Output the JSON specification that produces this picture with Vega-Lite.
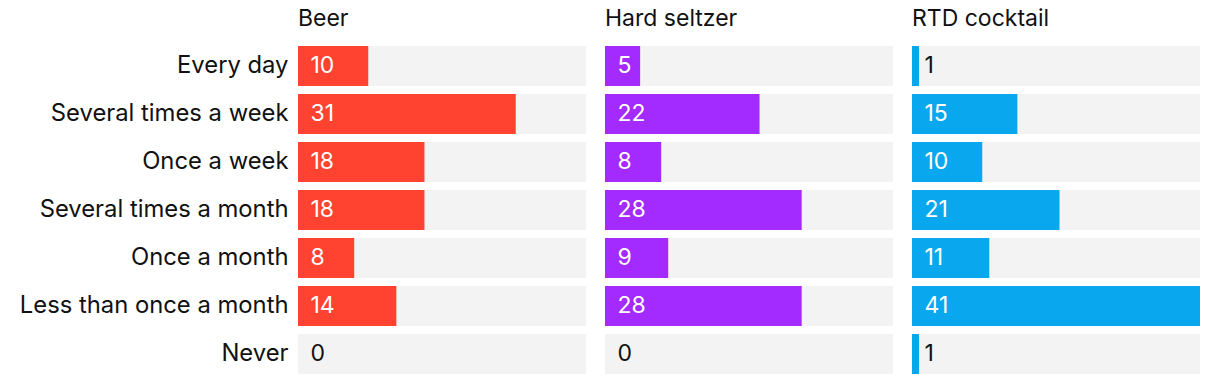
{
  "$schema": "https://vega.github.io/schema/vega-lite/v6.json",
  "padding": {"left": 19, "top": 8, "right": 0, "bottom": 0},
  "config": {
    "font": "Inter",
    "view": {"stroke": null},
    "facet": {"spacing": 19}
  },
  "data": {
    "values": [
      {"drink": "Beer", "freq": "Every day", "value": 10},
      {"drink": "Beer", "freq": "Several times a week", "value": 31},
      {"drink": "Beer", "freq": "Once a week", "value": 18},
      {"drink": "Beer", "freq": "Several times a month", "value": 18},
      {"drink": "Beer", "freq": "Once a month", "value": 8},
      {"drink": "Beer", "freq": "Less than once a month", "value": 14},
      {"drink": "Beer", "freq": "Never", "value": 0},
      {"drink": "Hard seltzer", "freq": "Every day", "value": 5},
      {"drink": "Hard seltzer", "freq": "Several times a week", "value": 22},
      {"drink": "Hard seltzer", "freq": "Once a week", "value": 8},
      {"drink": "Hard seltzer", "freq": "Several times a month", "value": 28},
      {"drink": "Hard seltzer", "freq": "Once a month", "value": 9},
      {"drink": "Hard seltzer", "freq": "Less than once a month", "value": 28},
      {"drink": "Hard seltzer", "freq": "Never", "value": 0},
      {"drink": "RTD cocktail", "freq": "Every day", "value": 1},
      {"drink": "RTD cocktail", "freq": "Several times a week", "value": 15},
      {"drink": "RTD cocktail", "freq": "Once a week", "value": 10},
      {"drink": "RTD cocktail", "freq": "Several times a month", "value": 21},
      {"drink": "RTD cocktail", "freq": "Once a month", "value": 11},
      {"drink": "RTD cocktail", "freq": "Less than once a month", "value": 41},
      {"drink": "RTD cocktail", "freq": "Never", "value": 1}
    ]
  },
  "facet": {
    "column": {
      "field": "drink",
      "type": "nominal",
      "sort": ["Beer", "Hard seltzer", "RTD cocktail"],
      "title": null,
      "header": {
        "labelFontSize": 23,
        "labelFont": "Inter",
        "labelColor": "#111111",
        "labelAnchor": "start",
        "labelAlign": "left",
        "labelBaseline": "alphabetic",
        "labelPadding": -7
      }
    }
  },
  "spec": {
    "width": 288,
    "height": 336,
    "encoding": {
      "y": {
        "field": "freq",
        "type": "nominal",
        "sort": ["Every day", "Several times a week", "Once a week", "Several times a month", "Once a month", "Less than once a month", "Never"],
        "title": null,
        "scale": {"paddingInner": 0.1667, "paddingOuter": 0.0833},
        "axis": {"domain": false, "ticks": false, "labelFontSize": 23.8, "labelFont": "Inter", "labelPadding": 10, "labelLimit": 0, "labelColor": "#111111"}
      }
    },
    "layer": [
      {
        "mark": {"type": "bar", "color": "#f3f3f3"},
        "encoding": {
          "x": {"datum": 41, "type": "quantitative", "scale": {"domain": [0, 41], "nice": false}, "axis": null}
        }
      },
      {
        "mark": {"type": "bar"},
        "encoding": {
          "x": {"field": "value", "type": "quantitative", "scale": {"domain": [0, 41], "nice": false}, "axis": null},
          "color": {
            "field": "drink",
            "type": "nominal",
            "scale": {"domain": ["Beer", "Hard seltzer", "RTD cocktail"], "range": ["#ff4330", "#a32bff", "#09a7ee"]},
            "legend": null
          }
        }
      },
      {
        "mark": {"type": "text", "align": "left", "baseline": "middle", "dx": 12.5, "fontSize": 23, "font": "Inter"},
        "encoding": {
          "x": {"datum": 0, "type": "quantitative"},
          "text": {"field": "value", "type": "quantitative"},
          "color": {
            "condition": {"test": "datum.value >= 5", "value": "#ffffff"},
            "value": "#111111"
          }
        }
      }
    ]
  }
}
